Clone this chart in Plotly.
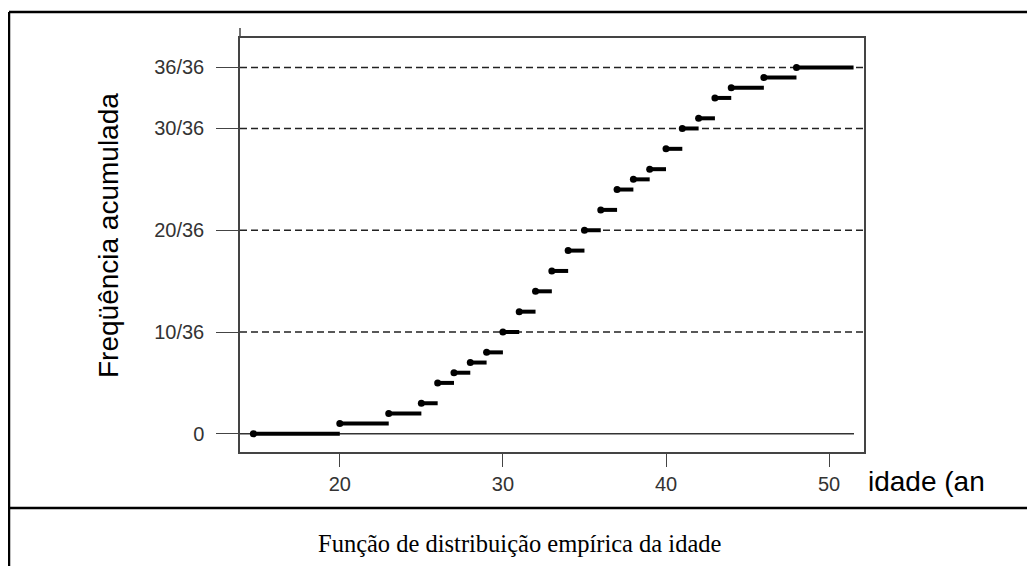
import plotly.graph_objects as go

# Função de distribuição empírica da idade (36 observações)
saltos = [14.7, 20, 23, 25, 26, 27, 28, 29, 30, 31, 32, 33, 34, 35, 36,
          37, 38, 39, 40, 41, 42, 43, 44, 46, 48]
niveis = [0, 1, 2, 3, 5, 6, 7, 8, 10, 12, 14, 16, 18, 20, 22,
          24, 25, 26, 28, 30, 31, 33, 34, 35, 36]
x_fim = 51.5
n_total = 36

y_ticks = [0, 10, 20, 30, 36]
y_labels = ["0", "10/36", "20/36", "30/36", "36/36"]
x_ticks = [20, 30, 40, 50]

# a página tem 8px de margem no body: posições-alvo na janela menos 8
OFF = 8
W, H = 1035, 566
L, R, T, B = 232, 179, 30, 122
PW, PH = W - L - R, H - T - B


def px(x):
    return (x - OFF - L) / PW


def py(y):
    return (H - B - (y - OFF)) / PH


# segmentos horizontais de cada degrau
seg_x, seg_y = [], []
fins = saltos[1:] + [x_fim]
for x0, x1, lv in zip(saltos, fins, niveis):
    seg_x += [x0, x1, None]
    seg_y += [lv, lv, None]

fig = go.Figure()
fig.add_trace(go.Scatter(
    x=seg_x, y=seg_y, mode="lines",
    line=dict(color="black", width=4),
    hoverinfo="skip", showlegend=False,
))
fig.add_trace(go.Scatter(
    x=saltos, y=niveis, mode="markers",
    marker=dict(color="black", size=7),
    showlegend=False,
))

for v in y_ticks[1:]:
    fig.add_hline(y=v, line=dict(color="#222222", width=1.5, dash="7px,4px"),
                  layer="below")
fig.add_shape(type="line", xref="paper", yref="y", x0=0, x1=px(854),
              y0=0, y1=0, line=dict(color="#333333", width=1.4), layer="below")

axis_font = dict(family="Liberation Sans, Arial, sans-serif", size=20, color="#333333")

fig.update_xaxes(
    range=[13.88, 52.14], tickvals=x_ticks, ticks="outside", ticklen=13,
    tickwidth=1.3, tickcolor="#444444", showline=True, linecolor="#444444",
    linewidth=1.5, mirror=True, showgrid=False, zeroline=False,
    tickfont=axis_font,
)
fig.update_yaxes(
    range=[-1.79, 38.89], tickvals=y_ticks, ticktext=y_labels,
    ticks="outside", ticklen=22, tickwidth=1.3, tickcolor="#444444",
    showline=True, linecolor="#444444", linewidth=1.5, mirror=True,
    showgrid=False, zeroline=False, tickfont=axis_font, ticklabelstandoff=8,
)

# eixo vertical sobe um pouco acima da caixa
fig.add_shape(type="line", xref="paper", yref="paper", x0=0, x1=0,
              y0=1, y1=py(28), line=dict(color="#444444", width=1.5))

# moldura da tabela
borda = dict(color="black", width=2.5)
fig.add_shape(type="line", xref="paper", yref="paper", x0=px(9), x1=px(1050),
              y0=py(12), y1=py(12), line=borda)
fig.add_shape(type="line", xref="paper", yref="paper", x0=px(9), x1=px(9),
              y0=py(12), y1=py(580), line=borda)
fig.add_shape(type="line", xref="paper", yref="paper", x0=px(9), x1=px(1050),
              y0=py(508), y1=py(508), line=borda)

fig.add_annotation(
    text="Freqüência acumulada", xref="paper", yref="paper",
    x=px(108), y=py(236), textangle=-90, showarrow=False,
    xanchor="center", yanchor="middle",
    font=dict(family="Liberation Sans, Arial, sans-serif", size=28, color="black"),
)
fig.add_annotation(
    text="idade (an", xref="paper", yref="paper",
    x=px(866), y=py(481), showarrow=False, xanchor="left", yanchor="middle",
    font=dict(family="Liberation Sans, Arial, sans-serif", size=28, color="black"),
)
fig.add_annotation(
    text="Função de distribuição empírica da idade", xref="paper", yref="paper",
    x=px(520), y=py(543), showarrow=False, xanchor="center", yanchor="middle",
    font=dict(family="Liberation Serif, Times New Roman, serif", size=24.5, color="black"),
)

fig.update_layout(
    width=W, height=H,
    margin=dict(l=L, r=R, t=T, b=B, autoexpand=False),
    paper_bgcolor="white", plot_bgcolor="white",
    showlegend=False,
)

fig.write_html("out.html")
